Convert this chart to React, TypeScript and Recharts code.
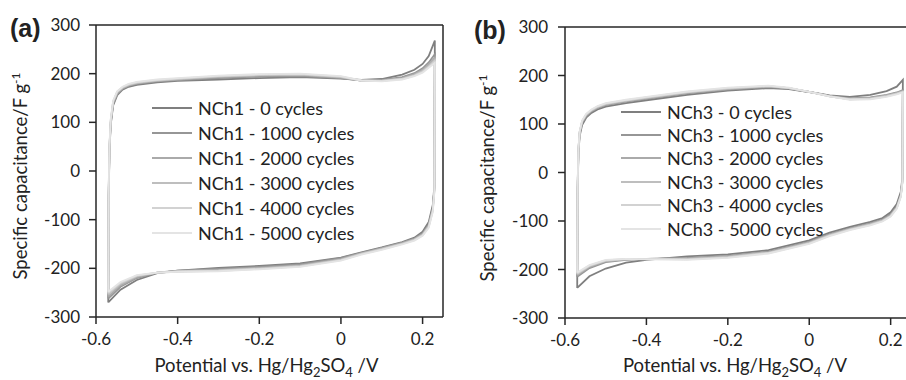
import { LineChart, Line, XAxis, YAxis, ReferenceLine, Legend } from 'recharts';

// potential along one full CV loop (forward scan, then reverse scan), V
const potentialA = [-0.570, -0.569, -0.567, -0.564, -0.558, -0.548, -0.535, -0.520, -0.500, -0.450, -0.400, -0.300, -0.200, -0.100, 0.000, 0.050, 0.100, 0.150, 0.180, 0.200, 0.215, 0.230, 0.229, 0.225, 0.215, 0.200, 0.180, 0.150, 0.100, 0.050, 0.000, -0.100, -0.200, -0.300, -0.400, -0.450, -0.500, -0.540, -0.570];
const potentialB = [-0.570, -0.569, -0.567, -0.564, -0.558, -0.548, -0.535, -0.520, -0.500, -0.450, -0.400, -0.300, -0.200, -0.100, -0.050, 0.000, 0.050, 0.100, 0.150, 0.190, 0.215, 0.230, 0.229, 0.225, 0.215, 0.200, 0.180, 0.150, 0.100, 0.050, 0.000, -0.100, -0.200, -0.300, -0.400, -0.450, -0.500, -0.540, -0.570];

// specific capacitance, F/g
const nch1_0 = [-270, -60, 40, 95, 135, 156, 167, 173, 177, 182, 185, 188, 191, 193, 190, 187, 189, 198, 208, 220, 236, 268, -30, -70, -105, -125, -137, -146, -157, -167, -178, -190, -195, -199, -205, -210, -224, -244, -270];
const nch1_1000 = [-262, -55, 45, 98, 138, 158, 169, 175, 179, 184, 187, 191, 194, 195, 191, 186, 187, 193, 201, 211, 223, 240, -35, -75, -110, -128, -139, -147, -158, -168, -179, -192, -197, -201, -205, -209, -220, -238, -262];
const nch1_2000 = [-258, -50, 48, 100, 140, 160, 170, 176, 180, 185, 188, 193, 196, 197, 192, 186, 186, 191, 199, 208, 219, 233, -35, -78, -112, -130, -140, -148, -159, -169, -181, -194, -199, -203, -206, -209, -218, -235, -258];
const nch1_3000 = [-254, -45, 50, 102, 142, 162, 171, 177, 181, 186, 189, 194, 197, 198, 193, 186, 185, 190, 197, 206, 216, 229, -38, -80, -113, -131, -141, -149, -160, -170, -182, -195, -200, -204, -206, -209, -216, -232, -254];
const nch1_4000 = [-251, -42, 52, 104, 143, 163, 172, 178, 182, 187, 190, 195, 198, 199, 194, 186, 185, 189, 196, 204, 214, 226, -40, -82, -115, -132, -142, -150, -161, -171, -183, -196, -201, -205, -207, -209, -215, -230, -251];
const nch1_5000 = [-248, -40, 55, 106, 145, 164, 173, 179, 183, 188, 191, 196, 199, 200, 195, 186, 184, 188, 195, 202, 212, 222, -42, -84, -117, -133, -143, -151, -162, -172, -184, -197, -202, -206, -207, -209, -214, -228, -248];

const nch3_0 = [-238, -40, 40, 75, 98, 113, 123, 130, 136, 143, 149, 160, 169, 174, 172, 166, 159, 156, 160, 168, 177, 191, -10, -40, -65, -82, -94, -102, -112, -124, -140, -160, -169, -173, -180, -186, -198, -214, -238];
const nch3_1000 = [-215, -35, 45, 80, 102, 116, 126, 133, 139, 146, 152, 163, 171, 176, 173, 166, 158, 153, 155, 160, 165, 170, -15, -45, -70, -86, -97, -105, -115, -127, -143, -163, -172, -176, -178, -180, -185, -197, -215];
const nch3_2000 = [-212, -32, 47, 82, 104, 118, 127, 134, 140, 147, 153, 164, 172, 177, 174, 166, 158, 152, 154, 159, 164, 168, -17, -47, -72, -88, -98, -106, -116, -128, -144, -164, -173, -177, -178, -179, -183, -195, -212];
const nch3_3000 = [-210, -30, 48, 83, 105, 119, 128, 135, 141, 148, 154, 165, 173, 178, 174, 166, 157, 151, 153, 158, 163, 167, -18, -48, -73, -89, -99, -107, -117, -129, -145, -165, -174, -178, -178, -179, -182, -193, -210];
const nch3_4000 = [-208, -28, 49, 84, 106, 120, 129, 136, 142, 149, 155, 166, 174, 178, 174, 166, 157, 151, 152, 157, 162, 166, -19, -49, -74, -90, -100, -108, -118, -130, -146, -166, -175, -179, -178, -178, -181, -192, -208];
const nch3_5000 = [-206, -26, 50, 85, 107, 121, 130, 137, 143, 150, 156, 167, 175, 179, 175, 166, 157, 150, 151, 156, 161, 165, -20, -50, -75, -91, -101, -109, -119, -131, -147, -167, -176, -180, -179, -178, -180, -191, -206];

const cycleLabels = ['0', '1000', '2000', '3000', '4000', '5000'];
const seriesA = [nch1_0, nch1_1000, nch1_2000, nch1_3000, nch1_4000, nch1_5000];
const seriesB = [nch3_0, nch3_1000, nch3_2000, nch3_3000, nch3_4000, nch3_5000];
const grays = ['#7f7f7f', '#969696', '#aaaaaa', '#bebebe', '#d2d2d2', '#e4e4e4'];

const xTicks = [-0.6, -0.4, -0.2, 0, 0.2];
const yTicks = [-300, -200, -100, 0, 100, 200, 300];

const FONT = 'Lato, "Noto Sans", sans-serif';
const AXIS = '#262626';
const TEXT = '#222';

function fmtX(v: number) {
    return v === 0 ? '0' : String(Number(v.toFixed(1)));
}

function xTitle(offsetY: number) {
    return (props: any) => {
        const vb = props.viewBox;
        const cx = vb.x + vb.width / 2 - 3;
        return (
            <text x={cx} y={vb.y + offsetY} textAnchor="middle" fontSize={18.5} fill={TEXT} fontFamily={FONT}>
                Potential vs. Hg/Hg
                <tspan dy={5} fontSize={13}>2</tspan>
                <tspan dy={-5}>SO</tspan>
                <tspan dy={5} fontSize={13}>4</tspan>
                <tspan dy={-5}> /V</tspan>
            </text>
        );
    };
}

function yTitle(baseX: number, cy: number) {
    return () => (
        <text
            x={baseX}
            y={cy}
            transform={`rotate(-90 ${baseX} ${cy})`}
            textAnchor="middle"
            fontSize={18.5}
            fill={TEXT}
            fontFamily={FONT}
        >
            Specific capacitance/F g
            <tspan dy={-7} fontSize={12}>-1</tspan>
        </text>
    );
}

function legendContent(rowGap: number) {
    return (props: any) => (
        <div style={{ fontFamily: FONT, fontSize: 18, color: TEXT }}>
            {(props.payload || []).map((p: any) => (
                <div key={p.value} style={{ display: 'flex', alignItems: 'center', height: rowGap, whiteSpace: 'nowrap' }}>
                    <div style={{ width: 40, height: 2, background: p.color, marginRight: 6 }} />
                    <span>{p.value}</span>
                </div>
            ))}
        </div>
    );
}

interface PanelProps {
    potential: number[];
    series: number[][];
    prefix: string;
    width: number;
    top: number;
    yAxisWidth: number;
    xAxisHeight: number;
    tickMarginY: number;
    titleX: number;
    titleY: number;
    xTitleOffset: number;
    legendLeft: number;
    legendTop: number;
    legendGap: number;
}

function Panel(p: PanelProps) {
    return (
        <LineChart width={p.width} height={380} margin={{ top: p.top, right: 10, left: 0, bottom: 0 }}>
            <XAxis
                dataKey="x"
                type="number"
                domain={[-0.6, 0.25]}
                ticks={xTicks}
                tickFormatter={fmtX}
                allowDataOverflow
                height={p.xAxisHeight}
                tickSize={7}
                tickMargin={9}
                tick={{ fontSize: 17, fill: TEXT, fontFamily: FONT }}
                axisLine={{ stroke: AXIS, strokeWidth: 1.5 }}
                tickLine={{ stroke: AXIS, strokeWidth: 1.5 }}
                label={xTitle(p.xTitleOffset)}
            />
            <YAxis
                type="number"
                domain={[-300, 300]}
                ticks={yTicks}
                allowDataOverflow
                width={p.yAxisWidth}
                tickSize={7}
                tickMargin={p.tickMarginY}
                tick={{ fontSize: 17, fill: TEXT, fontFamily: FONT }}
                axisLine={{ stroke: AXIS, strokeWidth: 1.5 }}
                tickLine={{ stroke: AXIS, strokeWidth: 1.5 }}
                label={yTitle(p.titleX, p.titleY)}
            />
            <ReferenceLine y={300} stroke={AXIS} strokeWidth={1.5} />
            <ReferenceLine x={0.25} stroke={AXIS} strokeWidth={1.5} />
            {p.series.map((vals, i) => (
                <Line
                    key={i}
                    name={`${p.prefix} - ${cycleLabels[i]} cycles`}
                    data={p.potential.map((x, j) => ({ x, y: vals[j] }))}
                    dataKey="y"
                    type="linear"
                    stroke={grays[i]}
                    strokeWidth={1.8}
                    dot={false}
                    isAnimationActive={false}
                />
            ))}
            <Legend
                layout="vertical"
                align="center"
                verticalAlign="middle"
                content={legendContent(p.legendGap)}
                wrapperStyle={{ position: 'absolute', left: p.legendLeft, top: p.legendTop, width: 'auto' }}
            />
        </LineChart>
    );
}

export default function App() {
    return (
        <div style={{ position: 'fixed', left: 0, top: 0, width: 906, height: 380, overflow: 'hidden', background: '#fff' }}>
            <div style={{ position: 'absolute', left: 0, top: 0 }}>
                <Panel
                    potential={potentialA}
                    series={seriesA}
                    prefix="NCh1"
                    width={453}
                    top={25}
                    yAxisWidth={96}
                    xAxisHeight={63}
                    tickMarginY={9}
                    titleX={27}
                    titleY={176}
                    xTitleOffset={55}
                    legendLeft={152}
                    legendTop={95}
                    legendGap={25}
                />
            </div>
            <div style={{ position: 'absolute', left: 453, top: 0 }}>
                <Panel
                    potential={potentialB}
                    series={seriesB}
                    prefix="NCh3"
                    width={468}
                    top={27}
                    yAxisWidth={112}
                    xAxisHeight={62}
                    tickMarginY={10}
                    titleX={41}
                    titleY={178}
                    xTitleOffset={54}
                    legendLeft={168}
                    legendTop={100}
                    legendGap={23.4}
                />
            </div>
            <div style={{ position: 'absolute', left: 10, top: 14, fontFamily: '"Liberation Sans", Arial, sans-serif', fontWeight: 'bold', fontSize: 25, color: TEXT }}>(a)</div>
            <div style={{ position: 'absolute', left: 474, top: 16, fontFamily: '"Liberation Sans", Arial, sans-serif', fontWeight: 'bold', fontSize: 25, color: TEXT }}>(b)</div>
        </div>
    );
}
